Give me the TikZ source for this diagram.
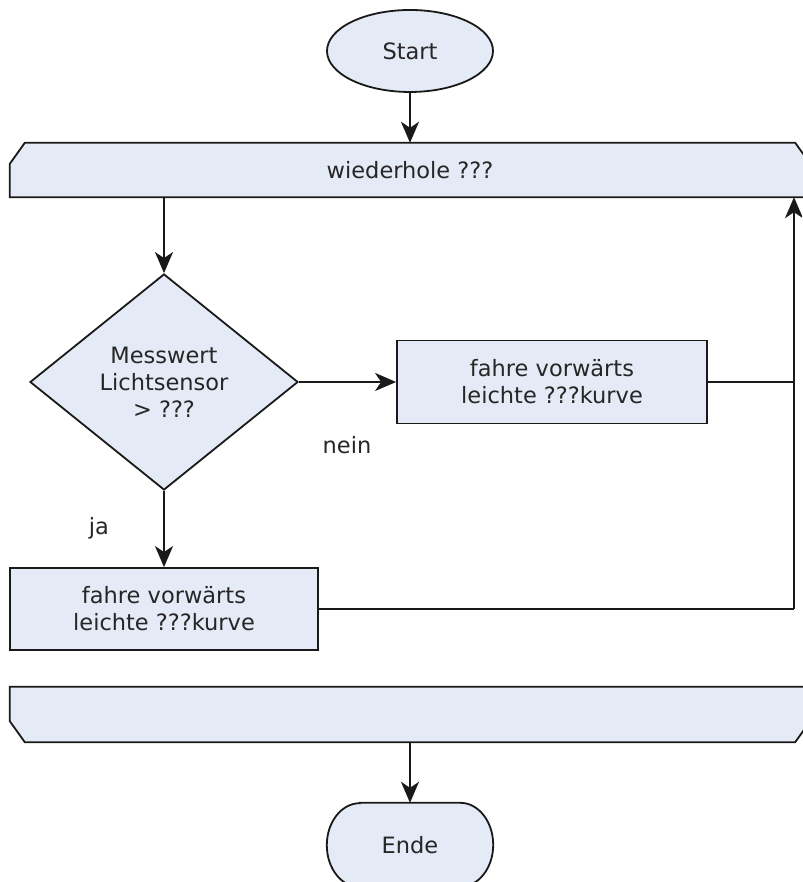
\documentclass[tikz,border=0pt]{standalone}
\usepackage{fontspec}
\setmainfont{DejaVu Sans}
\usetikzlibrary{arrows.meta,shapes.geometric,calc,backgrounds}
\definecolor{boxfill}{RGB}{229,235,246}
\definecolor{boxline}{RGB}{25,25,25}
\tikzset{
  shapestyle/.style={draw=boxline, fill=boxfill, line width=1.8pt},
  txt/.style={font=\fontsize{22.5}{27}\selectfont, align=center, text=black!85},
  procbox/.style={shapestyle, txt, rectangle, inner sep=0pt},
  decision/.style={shapestyle, txt, diamond, inner sep=0pt, minimum width=268pt, minimum height=216pt},
  termstart/.style={shapestyle, txt, ellipse, inner sep=0pt, minimum width=166pt, minimum height=82pt},
  loopnode/.style={txt, inner sep=0pt, minimum width=800pt},
  conn/.style={draw=boxline, line width=1.8pt},
  arr/.style={conn, -{Stealth[length=21pt,width=18pt,inset=6pt]}},
  lbl/.style={font=\fontsize{22.5}{27}\selectfont, text=black!85, inner sep=0pt}
}
\begin{document}
\begin{tikzpicture}[x=1pt,y=1pt]
\path[use as bounding box] (0,0) rectangle (802,882);
\clip (0,0) rectangle (802,882);

% Start
\node[termstart] (start) at (410,831) {Start};

% loop head
\node[loopnode, minimum height=54pt] (loop) at (410,712) {wiederhole ???};
\begin{scope}[on background layer]
\draw[shapestyle] (loop.south west) -- ($(loop.north west)+(0,-21)$) -- ($(loop.north west)+(15,0)$)
  -- ($(loop.north east)+(-15,0)$) -- ($(loop.north east)+(0,-21)$) -- (loop.south east) -- cycle;
\end{scope}

% decision
\node[decision] (dia) at (164,500) {Messwert\\Lichtsensor\\> ???};

% right process box
\node[procbox, minimum width=310pt, minimum height=83pt] (boxR) at (552,500) {fahre vorwärts\\leichte ???kurve};

% left process box
\node[procbox, minimum width=308pt, minimum height=82pt] (boxL) at (164,273) {fahre vorwärts\\leichte ???kurve};

% loop end
\node[loopnode, minimum height=55pt] (loopend) at (410,167.5) {};
\begin{scope}[on background layer]
\draw[shapestyle] (loopend.north west) -- ($(loopend.south west)+(0,21)$) -- ($(loopend.south west)+(15,0)$)
  -- ($(loopend.south east)+(-15,0)$) -- ($(loopend.south east)+(0,21)$) -- (loopend.north east) -- cycle;
\end{scope}

% Ende
\node[txt, inner sep=0pt, minimum width=166pt, minimum height=84pt] (ende) at (410,37) {Ende};
\begin{scope}[on background layer]
\draw[shapestyle] ($(ende.north west)+(33,0)$) -- ($(ende.north east)+(-33,0)$)
  arc[start angle=90, end angle=-90, x radius=33, y radius=42]
  -- ($(ende.south west)+(33,0)$)
  arc[start angle=270, end angle=90, x radius=33, y radius=42] -- cycle;
\end{scope}

% labels
\node[lbl] (nein) at (347,437) {nein};
\node[lbl] (ja) at (99,354) {ja};

% return line x position
\coordinate (rx) at (794,0);

% connectors
\draw[arr] (start.south) -- (loop.north);
\draw[arr] (loop.south -| dia.north) -- (dia.north);
\draw[arr] (dia.east) -- (boxR.west);
\draw[arr] (dia.south) -- (boxL.north);
\draw[conn] (boxR.east) -- (boxR.east -| rx);
\draw[conn] (boxL.east) -- (boxL.east -| rx);
\draw[arr] (boxL.east -| rx) -- (loop.south -| rx);
\draw[arr] (loopend.south) -- (ende.north);
\end{tikzpicture}
\end{document}
